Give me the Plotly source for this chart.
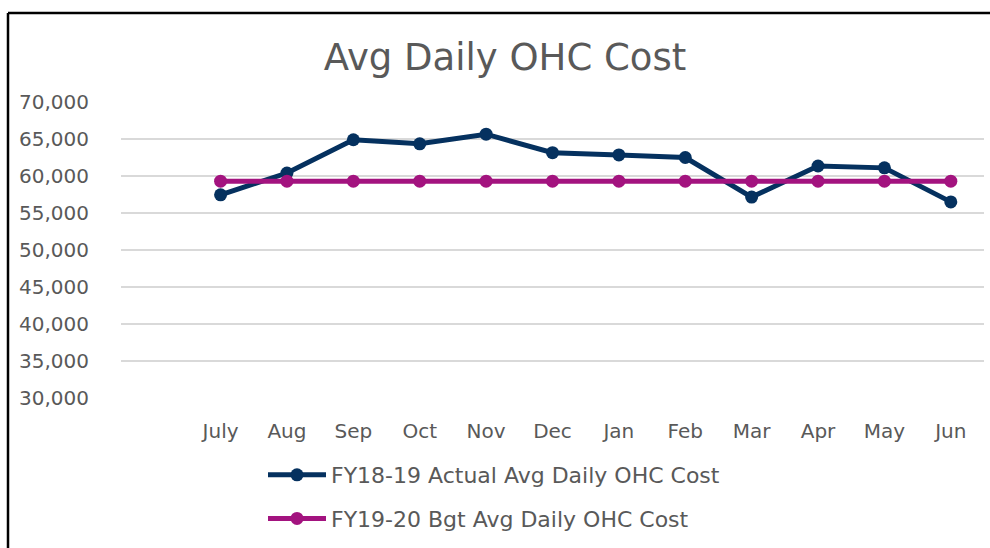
import plotly.graph_objects as go

months = ["July", "Aug", "Sep", "Oct", "Nov", "Dec", "Jan", "Feb", "Mar", "Apr", "May", "Jun"]
actual_fy1819 = [57450, 60400, 64900, 64350, 65650, 63150, 62850, 62500, 57150, 61350, 61100, 56500]
budget_fy1920 = [59300] * 12
y_ticks = [30000, 35000, 40000, 45000, 50000, 55000, 60000, 65000, 70000]

NAVY = "#05315F"
MAGENTA = "#A3137F"
TXT = "#595959"
FONT = "'DejaVu Sans', Verdana, sans-serif"

x_idx = list(range(len(months)))

fig = go.Figure()
fig.add_trace(go.Scatter(
    x=x_idx, y=actual_fy1819, mode="lines+markers",
    name="FY18-19 Actual Avg Daily OHC Cost",
    line=dict(color=NAVY, width=5),
    marker=dict(color=NAVY, size=13),
    legendgroup="a",
))
fig.add_trace(go.Scatter(
    x=x_idx, y=budget_fy1920, mode="lines+markers",
    name="FY19-20 Bgt Avg Daily OHC Cost",
    line=dict(color=MAGENTA, width=5),
    marker=dict(color=MAGENTA, size=13),
    legendgroup="b",
))

L, R, T, B = 121, 6, 102, 150
W, H = 990, 548
pw, ph = W - L - R, H - T - B

def px(x):
    return (x - L) / pw

def py(y):
    return (H - B - y) / ph

fig.update_layout(
    width=W, height=H,
    margin=dict(l=L, r=R, t=T, b=B),
    paper_bgcolor="white", plot_bgcolor="white",
    font=dict(family=FONT, color=TXT, size=19),
    title=dict(text="Avg Daily OHC Cost", x=505 / W, xanchor="center",
               y=1 - 57 / H, yanchor="middle",
               font=dict(size=37, color=TXT, family=FONT)),
    xaxis=dict(
        range=[-1.5, 11.5], tickmode="array", tickvals=x_idx, ticktext=months,
        showgrid=False, zeroline=False, showline=False,
        ticks="outside", ticklen=15, tickcolor="rgba(0,0,0,0)",
        tickfont=dict(size=20, color=TXT),
    ),
    yaxis=dict(
        range=[30000, 70000], tickmode="array", tickvals=y_ticks,
        tickformat=",", showgrid=True, gridcolor="#D9D9D9", gridwidth=1.5,
        zeroline=False, showline=False,
        ticks="outside", ticklen=27, tickcolor="rgba(0,0,0,0)",
        tickfont=dict(size=20, color=TXT),
    ),
    showlegend=True,
    legend=dict(
        x=px(263), y=py(454), xanchor="left", yanchor="top",
        orientation="v", tracegroupgap=12, itemwidth=58,
        font=dict(size=22, color=TXT), bgcolor="rgba(0,0,0,0)",
    ),
    shapes=[
        dict(type="line", xref="paper", yref="paper",
             x0=px(8), x1=px(995), y0=py(13), y1=py(13),
             line=dict(color="black", width=2.5)),
        dict(type="line", xref="paper", yref="paper",
             x0=px(8), x1=px(8), y0=py(13), y1=py(560),
             line=dict(color="black", width=2.5)),
    ],
)

fig.write_html("out.html", config={"displayModeBar": False},
               post_script="document.body.style.margin='0px';document.body.style.overflow='hidden';")
